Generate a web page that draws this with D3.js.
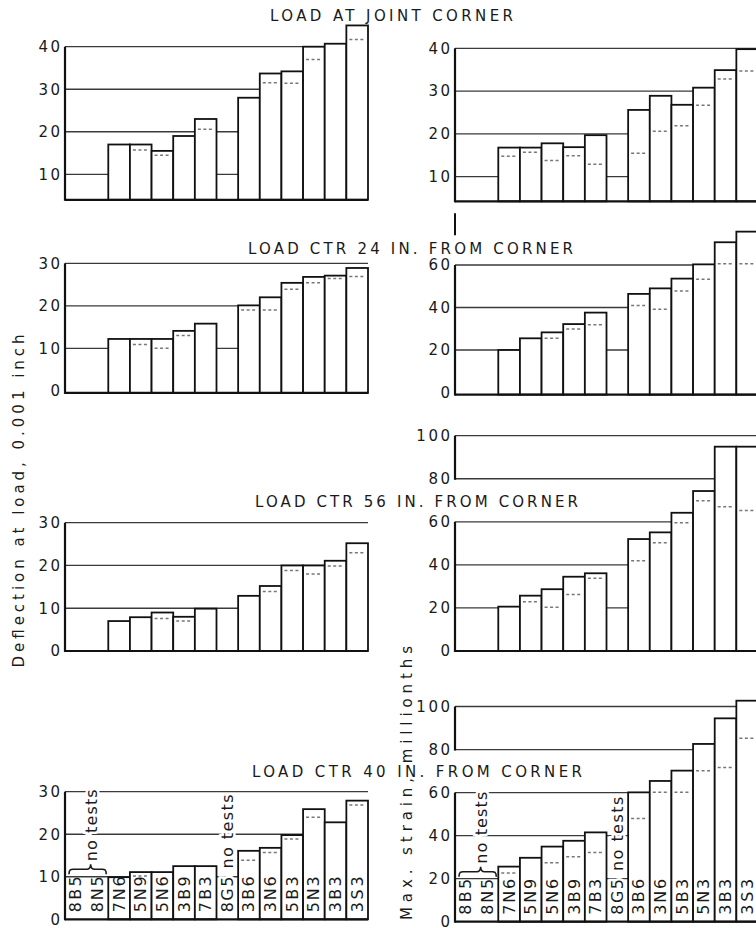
<!DOCTYPE html>
<html>
<head>
<meta charset="utf-8">
<script src="https://cdn.jsdelivr.net/npm/d3@7"></script>
<style>
  body { margin: 0; background: #fff; }
  svg { display: block; }
  text { font-family: "DejaVu Sans", sans-serif; fill: #1a1a1a; }
</style>
</head>
<body>
<svg id="chart" width="756" height="928"></svg>
<script>
// Slab designations along the horizontal axis
const slabs = ["8B5", "8N5", "7N6", "5N9", "5N6", "3B9", "7B3", "8G5", "3B6", "3N6", "5B3", "5N3", "3B3", "3S3"];
const untested = ["8B5", "8N5", "8G5"];

// Deflection at load, 0.001 in. (solid bar = maximum, dotted = average)
const deflJoint      = [null, null, 17.0, 17.0, 15.5, 19.0, 23.0, null, 28.0, 33.7, 34.2, 40.0, 40.7, 45.0];
const deflJointAvg   = [null, null, null, 15.7, 14.5, null, 20.6, null, null, 31.5, 31.4, 37.0, null, 41.7];
const deflCtr24      = [null, null, 12.2, 12.2, 12.2, 14.1, 15.8, null, 20.1, 22.0, 25.4, 26.8, 27.1, 28.9];
const deflCtr24Avg   = [null, null, null, 10.9, 10.0, 13.0, null, null, 19.0, 19.0, 23.9, 25.4, 26.4, 26.9];
const deflCtr56      = [null, null, 7.0, 7.9, 9.0, 8.0, 9.9, null, 12.9, 15.2, 20.0, 20.0, 21.1, 25.2];
const deflCtr56Avg   = [null, null, null, null, 7.6, 7.0, null, null, null, 13.9, 18.8, 18.0, 19.9, 23.0];
const deflCtr40      = [null, null, 9.9, 11.1, 11.1, 12.5, 12.5, null, 16.1, 16.8, 19.8, 25.9, 22.8, 27.9];
const deflCtr40Avg   = [null, null, null, 10.2, null, null, null, null, 13.9, 15.7, 18.9, 24.0, null, 26.9];

// Maximum strain, millionths
const strainJoint    = [null, null, 16.8, 16.8, 17.8, 16.9, 19.7, null, 25.6, 28.9, 26.8, 30.8, 34.9, 39.8];
const strainJointAvg = [null, null, 14.8, 15.7, 13.8, 14.9, 12.9, null, 15.5, 20.6, 21.9, 26.7, 32.8, 34.7];
const strainCtr24    = [null, null, 20.0, 25.5, 28.3, 32.2, 37.6, null, 46.4, 49.0, 53.6, 60.3, 70.7, 75.7];
const strainCtr24Avg = [null, null, null, null, 25.5, 29.9, 31.9, null, 41.0, 39.2, 47.8, 53.3, 60.6, 60.6];
const strainCtr56    = [null, null, 20.6, 25.7, 28.7, 34.5, 36.1, null, 52.0, 55.1, 64.2, 74.3, 94.9, 94.9];
const strainCtr56Avg = [null, null, null, 22.9, 20.3, 26.3, 33.8, null, 41.9, 50.3, 59.6, 69.8, 67.0, 65.2];
const strainCtr40    = [null, null, 25.6, 29.7, 34.9, 37.6, 41.5, null, 60.1, 65.4, 70.2, 82.6, 94.5, 102.7];
const strainCtr40Avg = [null, null, 22.6, null, 27.4, 30.2, 32.1, null, 48.0, 60.1, 60.1, 70.2, 71.7, 85.2];

// Tick values
const ticksDefl40 = [10, 20, 30, 40];
const ticksDefl30 = [0, 10, 20, 30];
const ticksStrain40 = [10, 20, 30, 40];
const ticksStrain60 = [0, 20, 40, 60];
const ticksStrain100 = [0, 20, 40, 60, 80, 100];

// Panel titles
const titles = [
  "LOAD AT JOINT CORNER",
  "LOAD CTR 24 IN. FROM CORNER",
  "LOAD CTR 56 IN. FROM CORNER",
  "LOAD CTR 40 IN. FROM CORNER"
];

// ---- layout ----
const svg = d3.select("#chart");
const colX = [65, 455];
const plotW = 303;

const x = d3.scaleBand().domain(slabs).range([0, plotW]).padding(0);
const bw = x.bandwidth();

const panels = [
  { col: 0, vals: deflJoint,   avg: deflJointAvg,   dom: [0, 40],  rng: [216.8, 46.7], base: 4.0,  ticks: ticksDefl40,    axisSegs: [[4.0, 40]] },
  { col: 1, vals: strainJoint, avg: strainJointAvg, dom: [0, 40],  rng: [219.5, 48.3], base: 4.25, ticks: ticksStrain40,  axisSegs: [[4.25, 40]], stray: true },
  { col: 0, vals: deflCtr24,   avg: deflCtr24Avg,   dom: [0, 30],  rng: [390.8, 263.3], base: -0.5, ticks: ticksDefl30,   axisSegs: [[-0.5, 30]] },
  { col: 1, vals: strainCtr24, avg: strainCtr24Avg, dom: [0, 60],  rng: [392.5, 265.0], base: -1.0, ticks: ticksStrain60, axisSegs: [[-1.0, 60]] },
  { col: 0, vals: deflCtr56,   avg: deflCtr56Avg,   dom: [0, 30],  rng: [651.0, 522.7], base: 0,   ticks: ticksDefl30,    axisSegs: [[0, 30]] },
  { col: 1, vals: strainCtr56, avg: strainCtr56Avg, dom: [0, 100], rng: [651.0, 435.7], base: 0,   ticks: ticksStrain100, axisSegs: [[0, 60], [80, 100]] },
  { col: 0, vals: deflCtr40,   avg: deflCtr40Avg,   dom: [0, 30],  rng: [919.3, 791.7], base: 0,   ticks: ticksDefl30,    axisSegs: [[0, 30]], labels: true },
  { col: 1, vals: strainCtr40, avg: strainCtr40Avg, dom: [0, 100], rng: [921.7, 706.5], base: 0,   ticks: ticksStrain100, axisSegs: [[0, 60], [80, 100]], labels: true }
];

panels.forEach(p => {
  const g = svg.append("g").attr("transform", `translate(${colX[p.col]},0)`);
  const y = d3.scaleLinear().domain(p.dom).range(p.rng);

  // horizontal reference lines (drawn first, bars cover them)
  g.append("g").selectAll("line").data(p.ticks.filter(t => t > 0 && t > p.base))
    .join("line")
    .attr("x1", 0).attr("x2", plotW)
    .attr("y1", d => y(d)).attr("y2", d => y(d))
    .attr("stroke", "#3a3a3a").attr("stroke-width", 1.3);

  const rows = slabs.map((s, i) => ({ s, v: p.vals[i], a: p.avg[i] }));

  // bars
  g.append("g").selectAll("rect").data(rows.filter(d => d.v != null))
    .join("rect")
    .attr("x", d => x(d.s)).attr("width", bw)
    .attr("y", d => y(d.v)).attr("height", d => y(p.base) - y(d.v))
    .attr("fill", "#fff").attr("stroke", "#111").attr("stroke-width", 1.8);

  // average levels (dotted)
  g.append("g").selectAll("line").data(rows.filter(d => d.a != null))
    .join("line")
    .attr("x1", d => x(d.s) + 3).attr("x2", d => x(d.s) + bw - 3)
    .attr("y1", d => y(d.a)).attr("y2", d => y(d.a))
    .attr("stroke", "#777").attr("stroke-width", 1.5)
    .attr("stroke-dasharray", "3,2.5");

  // baseline
  g.append("line")
    .attr("x1", 0).attr("x2", plotW)
    .attr("y1", y(p.base)).attr("y2", y(p.base))
    .attr("stroke", "#111").attr("stroke-width", 2.2);

  // vertical axis line (may be broken)
  g.append("g").selectAll("line").data(p.axisSegs)
    .join("line")
    .attr("x1", 0).attr("x2", 0)
    .attr("y1", d => y(d[0]) + 1).attr("y2", d => y(d[1]))
    .attr("stroke", "#111").attr("stroke-width", 2.2);

  // tick labels
  const ax = g.append("g").call(d3.axisLeft(y).tickValues(p.ticks).tickSize(0).tickPadding(5).tickFormat(d3.format("d")));
  ax.select(".domain").remove();
  ax.selectAll("text")
    .attr("font-size", 15).attr("font-family", "DejaVu Sans, sans-serif")
    .attr("fill", "#1a1a1a").attr("letter-spacing", 2.5).attr("dx", 2.5);

  if (p.stray) {
    g.append("line").attr("x1", 0).attr("x2", 0)
      .attr("y1", y(p.base) + 12).attr("y2", y(p.base) + 34)
      .attr("stroke", "#111").attr("stroke-width", 2);
  }

  if (p.labels) {
    const y0 = y(0);
    // slab labels inside the bars
    g.append("g").selectAll("text")
      .data(slabs.filter(s => !untested.includes(s)))
      .join("text")
      .attr("transform", s => `translate(${x(s) + bw / 2},${y0 - 7}) rotate(-90)`)
      .attr("dominant-baseline", "central")
      .attr("font-size", 16)
      .attr("textLength", 36).attr("lengthAdjust", "spacing")
      .text(s => s);

    // untested slabs 8B5, 8N5
    ["8B5", "8N5"].forEach(s => {
      g.append("text")
        .attr("transform", `translate(${x(s) + bw / 2},${y0 - 7}) rotate(-90)`)
        .attr("dominant-baseline", "central")
        .attr("font-size", 16)
        .attr("textLength", 36).attr("lengthAdjust", "spacing")
        .text(s);
    });
    const xa = x("8B5") + 4, xb = x("8N5") + bw - 2, m = x("8N5") + 4;
    const yb = y0 - 45, h = 10;
    g.append("path")
      .attr("d", `M${xa},${yb} C${xa},${yb - h * 0.5} ${xa + 2},${yb - h * 0.5} ${xa + 4},${yb - h * 0.5}
                  L${m - 4},${yb - h * 0.5} C${m - 2},${yb - h * 0.5} ${m},${yb - h * 0.6} ${m},${yb - h}
                  C${m},${yb - h * 0.6} ${m + 2},${yb - h * 0.5} ${m + 4},${yb - h * 0.5}
                  L${xb - 4},${yb - h * 0.5} C${xb - 2},${yb - h * 0.5} ${xb},${yb - h * 0.5} ${xb},${yb}`)
      .attr("fill", "none").attr("stroke", "#1a1a1a").attr("stroke-width", 1.6);
    g.append("text")
      .attr("transform", `translate(${m + 1},${y0 - 58}) rotate(-90)`)
      .attr("dominant-baseline", "central")
      .attr("font-size", 16)
      .attr("stroke", "#fff").attr("stroke-width", 5).attr("paint-order", "stroke")
      .attr("textLength", 72).attr("lengthAdjust", "spacing")
      .text("no tests");

    // untested slab 8G5
    g.append("text")
      .attr("transform", `translate(${x("8G5") + bw / 2},${y0 - 7}) rotate(-90)`)
      .attr("dominant-baseline", "central")
      .attr("font-size", 16)
      .attr("stroke", "#fff").attr("stroke-width", 5).attr("paint-order", "stroke")
      .attr("textLength", 118).attr("lengthAdjust", "spacing")
      .text("8G5 no tests");
  }
});

// panel titles
const titlePos = [
  { cx: 391.5, by: 21,  len: 243 },
  { cx: 410.5, by: 254, len: 325 },
  { cx: 416.5, by: 507, len: 323 },
  { cx: 417,   by: 777, len: 330 }
];
svg.append("g").selectAll("text").data(titles)
  .join("text")
  .attr("x", (d, i) => titlePos[i].cx).attr("y", (d, i) => titlePos[i].by)
  .attr("text-anchor", "middle").attr("font-size", 15)
  .attr("textLength", (d, i) => titlePos[i].len).attr("lengthAdjust", "spacing")
  .text(d => d);

// axis titles
svg.append("text")
  .attr("transform", "translate(19,501) rotate(-90)")
  .attr("text-anchor", "middle").attr("dominant-baseline", "central")
  .attr("font-size", 15)
  .attr("textLength", 333).attr("lengthAdjust", "spacing")
  .text("Deflection at load, 0.001 inch");

svg.append("text")
  .attr("transform", "translate(407,783) rotate(-90)")
  .attr("text-anchor", "middle").attr("dominant-baseline", "central")
  .attr("font-size", 15)
  .attr("textLength", 274).attr("lengthAdjust", "spacing")
  .text("Max. strain, millionths");
</script>
</body>
</html>
